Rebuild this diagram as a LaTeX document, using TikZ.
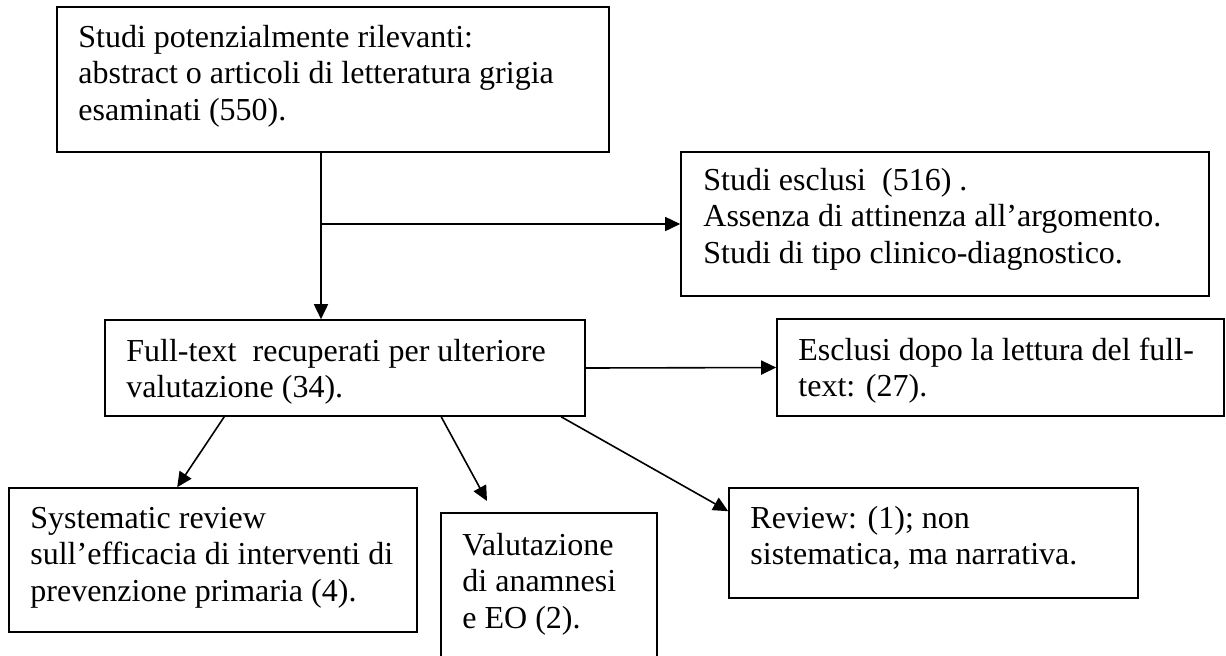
\documentclass[tikz,border=0pt]{standalone}
\usepackage{fontspec}
\setmainfont{Liberation Serif}
\usetikzlibrary{arrows.meta,fit,calc}

\begin{document}
\begin{tikzpicture}[x=0.5pt,y=-0.5pt,
  boxnode/.style={draw=black,line width=0.8pt,inner sep=0pt,rectangle},
  txt/.style={inner sep=0pt,anchor=base west,font=\fontsize{16pt}{18.4pt}\selectfont},
  link/.style={line width=0.8pt,-{Triangle[length=7.5pt,width=7pt]}}]

\useasboundingbox (0,0) rectangle (1226,655);
\clip (0,0) rectangle (1226,655);

% boxes
\node[boxnode,fit={(57,7) (609,152)}] (b1) {};
\node[boxnode,fit={(681,152) (1209,296)}] (b2) {};
\node[boxnode,fit={(105,320) (585,416)}] (b3) {};
\node[boxnode,fit={(777,319) (1224,416)}] (b4) {};
\node[boxnode,fit={(9,488) (417,632)}] (b5) {};
\node[boxnode,fit={(441,513) (657,720)}] (b6) {};
\node[boxnode,fit={(729,488) (1138,598)}] (b7) {};

% texts
\newcommand\boxlines[1]{\begin{tabular}[t]{@{}l@{}}#1\end{tabular}}
\node[txt] (t1) at (78,47) {\boxlines{Studi potenzialmente rilevanti:\\abstract o articoli di letteratura grigia\\esaminati (550).}};
\node[txt] (t2) at (703,190) {\boxlines{Studi esclusi\ \ (516)\ .\\Assenza di attinenza all’argomento.\\Studi di tipo clinico-diagnostico.}};
\node[txt] (t3) at (126,361) {\boxlines{Full-text\ \ recuperati per ulteriore\\valutazione (34).}};
\node[txt] (t4) at (798,360) {\boxlines{Esclusi dopo la lettura del full-\\text: (27).}};
\node[txt] (t5) at (30,528) {\boxlines{Systematic review\\sull’efficacia di interventi di\\prevenzione primaria (4).}};
\node[txt] (t6) at (462,555) {\boxlines{Valutazione\\di anamnesi\\e EO (2).}};
\node[txt] (t7) at (750,528) {\boxlines{Review: (1); non\\sistematica, ma narrativa.}};

% connectors
\coordinate (j) at (321,224);
\coordinate (e6) at (487,501);
\draw[link] (b1.south -| j) -- (j |- b3.north);
\draw[link] (j) -- (j -| b2.west);
\draw[link] (b3.east) -- (b4.west);
\draw[link] ($(b3.south west)+(120,0)$) -- ($(b5.north west)+(169,0)$);
\draw[link] ($(b3.south west)+(337,0)$) -- (e6);
\draw[link] ($(b3.south west)+(457,0)$) -- ($(b7.north west)+(0,24)$);
\end{tikzpicture}
\end{document}
